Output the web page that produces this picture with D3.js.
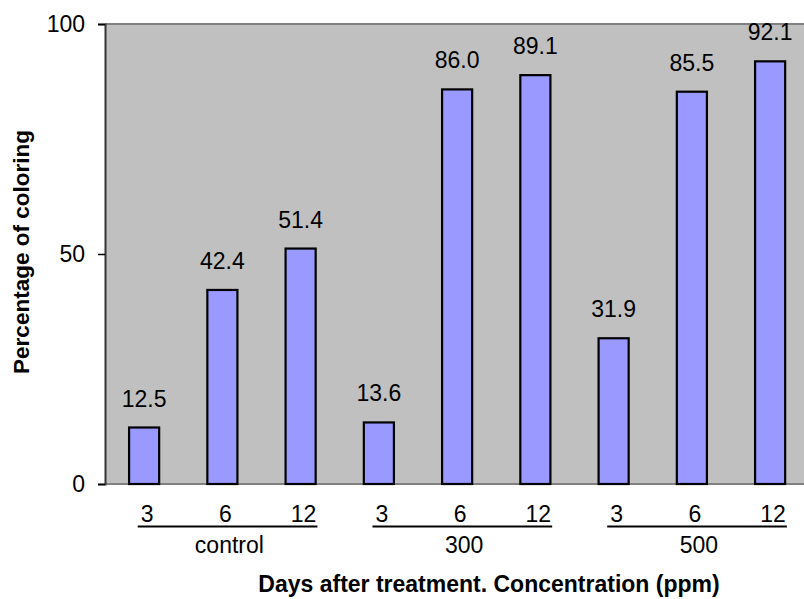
<!DOCTYPE html>
<html>
<head>
<meta charset="utf-8">
<script src="https://cdn.jsdelivr.net/npm/d3@7"></script>
<style>
  html, body { margin: 0; padding: 0; background: #fff; }
  svg { display: block; font-family: "Liberation Sans", Arial, sans-serif; }
</style>
</head>
<body>
<svg id="chart" width="804" height="599"></svg>
<script>
// Percentage of coloring by concentration group and days after treatment
const groups = ["control", "300", "500"];
const days = ["3", "6", "12"];
const values = [12.5, 42.4, 51.4, 13.6, 86.0, 89.1, 31.9, 85.5, 92.1];
const yTicks = [0, 50, 100];

const bars = [];
groups.forEach((g, gi) => days.forEach((d, di) => {
  bars.push({ group: g, day: d, value: values[gi * days.length + di], key: g + "-" + d });
}));

const svg = d3.select("#chart");
const plot = { left: 105, top: 24, bottom: 484, step: 78.25 };
plot.right = plot.left + plot.step * bars.length;
const FS = 23;

const x = d3.scaleBand()
  .domain(bars.map(b => b.key))
  .range([plot.left, plot.right])
  .paddingInner(0.59)
  .paddingOuter(0.295);

const y = d3.scaleLinear().domain([0, 100]).range([plot.bottom, plot.top]);

// plot background
svg.append("rect")
  .attr("x", plot.left).attr("y", plot.top)
  .attr("width", plot.right - plot.left).attr("height", plot.bottom - plot.top)
  .attr("fill", "#c0c0c0");

// frame lines top and bottom
svg.append("line")
  .attr("x1", plot.left).attr("x2", plot.right)
  .attr("y1", plot.top).attr("y2", plot.top)
  .attr("stroke", "#808080").attr("stroke-width", 2);
svg.append("line")
  .attr("x1", plot.left).attr("x2", plot.right)
  .attr("y1", plot.bottom).attr("y2", plot.bottom)
  .attr("stroke", "#808080").attr("stroke-width", 2);

// y axis
const yAxis = d3.axisLeft(y).tickValues(yTicks).tickSize(7).tickPadding(13)
  .tickFormat(d3.format("d"));
const yg = svg.append("g").attr("transform", `translate(${plot.left},0)`).call(yAxis);
yg.select(".domain").attr("stroke", "#333").attr("stroke-width", 2);
yg.selectAll(".tick line").attr("stroke", "#000").attr("stroke-width", 1.5);
yg.selectAll(".tick text")
  .attr("font-size", FS).attr("fill", "#000")
  .attr("font-family", "'Liberation Sans', Arial, sans-serif");

// bars
svg.append("g").selectAll("rect").data(bars).join("rect")
  .attr("x", d => x(d.key) + 1)
  .attr("y", d => y(d.value) + 1)
  .attr("width", x.bandwidth() - 2)
  .attr("height", d => y(0) - y(d.value) - 1)
  .attr("fill", "#9999ff")
  .attr("stroke", "#000")
  .attr("stroke-width", 2.2);

// value labels
svg.append("g").selectAll("text").data(bars).join("text")
  .attr("x", d => x(d.key) + x.bandwidth() / 2)
  .attr("y", d => y(d.value) - 20)
  .attr("text-anchor", "middle")
  .attr("font-size", FS)
  .attr("fill", "#000")
  .text(d => d3.format(".1f")(d.value));

// category labels: days underlined per group, group name below
groups.forEach(g => {
  const gb = bars.filter(b => b.group === g);
  const gEl = svg.append("g");
  const labels = gEl.selectAll("text").data(gb).join("text")
    .attr("x", d => x(d.key) + x.bandwidth() / 2 + 3)
    .attr("y", 522)
    .attr("text-anchor", "middle")
    .attr("font-size", FS)
    .attr("fill", "#000")
    .text(d => d.day);
  const boxes = labels.nodes().map(n => n.getBBox());
  const x0 = d3.min(boxes, b => b.x) - 3;
  const x1 = d3.max(boxes, b => b.x + b.width) + 1;
  gEl.append("line")
    .attr("x1", x0).attr("x2", x1)
    .attr("y1", 526.5).attr("y2", 526.5)
    .attr("stroke", "#000").attr("stroke-width", 2);
  const mid = x(gb[1].key) + x.bandwidth() / 2;
  gEl.append("text")
    .attr("x", mid + 7)
    .attr("y", 553)
    .attr("text-anchor", "middle")
    .attr("font-size", FS)
    .attr("fill", "#000")
    .text(g);
});

// axis titles
svg.append("text")
  .attr("x", 489).attr("y", 592)
  .attr("text-anchor", "middle")
  .attr("font-size", 23).attr("font-weight", "bold")
  .attr("fill", "#000")
  .text("Days after treatment. Concentration (ppm)");

svg.append("text")
  .attr("transform", "translate(29,252) rotate(-90)")
  .attr("text-anchor", "middle")
  .attr("font-size", 22.5).attr("font-weight", "bold")
  .attr("fill", "#000")
  .text("Percentage of coloring");
</script>
</body>
</html>
